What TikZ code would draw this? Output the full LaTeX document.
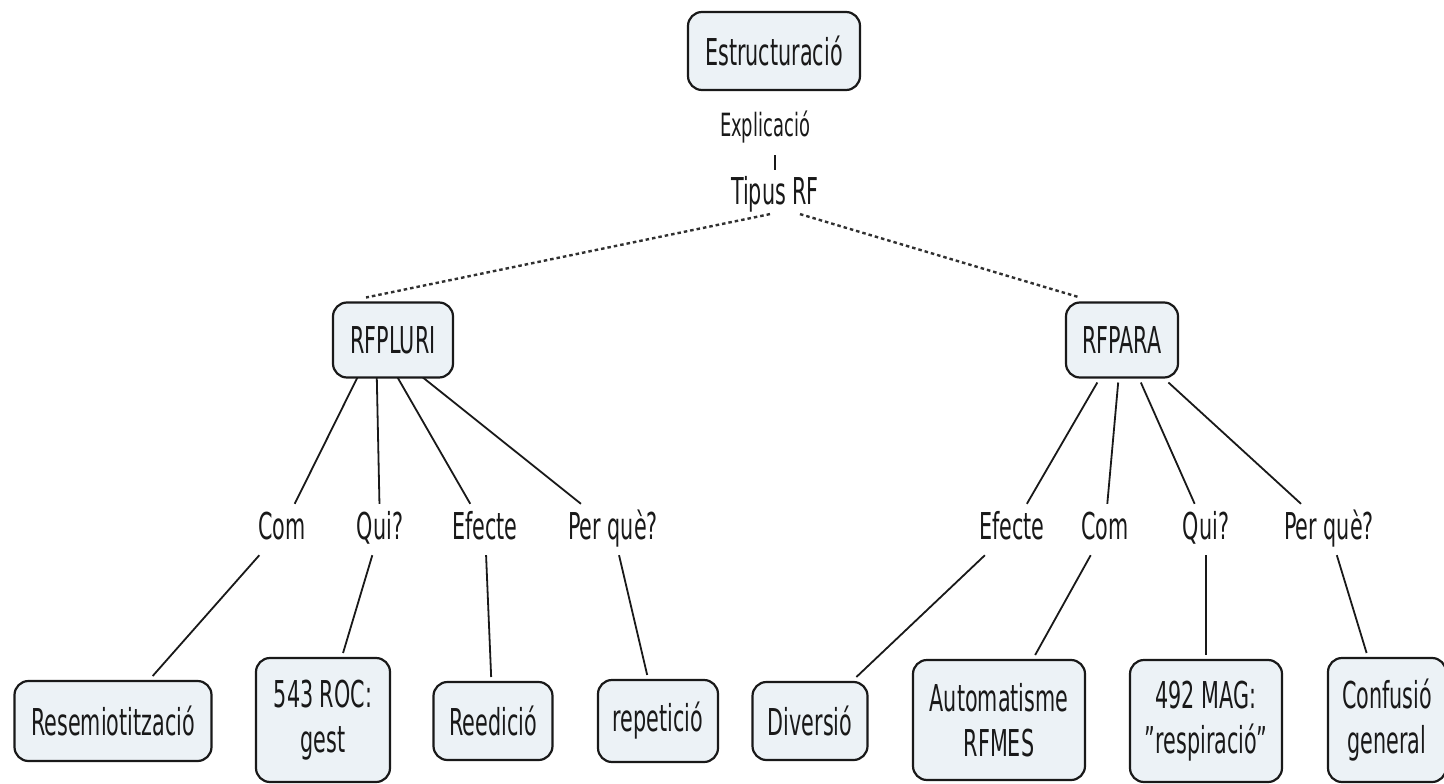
\documentclass[tikz,border=0pt]{standalone}
\usepackage{fontspec}
\setmainfont{DejaVu Sans}[FakeStretch=0.56]
\usetikzlibrary{backgrounds}
\definecolor{boxfill}{RGB}{236,242,246}
\definecolor{ink}{RGB}{25,25,25}
\begin{document}
\begin{tikzpicture}[x=1pt,y=-1pt,
  font=\fontsize{37}{45}\selectfont,
  cbox/.style={draw=ink, line width=2.2pt, fill=boxfill, rounded corners=14pt,
    align=center, inner sep=0pt, outer sep=5pt, text=ink},
  lbl/.style={text=ink, inner xsep=4pt, inner ysep=8pt, text height=27pt,
    text depth=8pt, anchor=base},
  conn/.style={draw=ink, line width=1.8pt},
  dashline/.style={draw=ink!90, line width=2.4pt, dash pattern=on 3.5pt off 3pt}]
\useasboundingbox (0,0) rectangle (1444,784);

% top
\node[cbox, minimum width=172pt, minimum height=78pt] (est) at (774,51) {Estructuració};
\node[text=ink, font=\fontsize{32}{38}\selectfont, inner sep=2pt] (expl) at (765,127) {Explicació};
\node[text=ink, inner sep=2pt] (tip) at (775,194) {Tipus RF};

% second level
\node[cbox, minimum width=120pt, minimum height=75pt] (plu) at (393,340) {RFPLURI};
\node[cbox, minimum width=112pt, minimum height=75pt] (rpa) at (1122,340) {RFPARA};
\coordinate (plhub) at (376,340);

% link labels
\node[lbl] (lcomL) at (282,539) {Com};
\node[lbl] (lquiL) at (380,539) {Qui?};
\node[lbl] (lefeL) at (485,539) {Efecte};
\node[lbl] (lperL) at (613,539) {Per què?};
\node[lbl] (lefeR) at (1012,539) {Efecte};
\node[lbl] (lcomR) at (1105,539) {Com};
\node[lbl] (lquiR) at (1206,539) {Qui?};
\node[lbl] (lperR) at (1329,539) {Per què?};

% leaves
\node[cbox, minimum width=197pt, minimum height=80pt] (res) at (113,721) {Resemiotització};
\node[cbox, minimum width=134pt, minimum height=124pt] (roc) at (323,720) {543 ROC:\\gest};
\node[cbox, minimum width=119pt, minimum height=78pt] (ree) at (493,721) {Reedició};
\node[cbox, minimum width=120pt, minimum height=82pt] (rep) at (658,721) {repetició};
\node[cbox, minimum width=115pt, minimum height=78pt] (div) at (810,721) {Diversió};
\node[cbox, minimum width=172pt, minimum height=120pt] (aut) at (999,720) {Automatisme\\RFMES};
\node[cbox, minimum width=152pt, minimum height=122pt] (mag) at (1206,721) {492 MAG:\\"respiració"};
\node[cbox, minimum width=118pt, minimum height=124pt] (con) at (1387,720) {Confusió\\general};

% connectors
\draw[conn, line width=1.5pt, shorten <=10pt, shorten >=4pt] (tip.north |- expl.south) -- (tip.north);
\draw[dashline] ([xshift=-5pt]tip.south) -- ([xshift=-27pt]plu.north);
\draw[dashline] ([xshift=25pt]tip.south) -- ([xshift=-42pt]rpa.north);

\begin{pgfonlayer}{background}
\fill[white] (0,0) rectangle (1444,784);
\draw[conn] (plhub) -- (lcomL);
\draw[conn] (plhub) -- (lquiL);
\draw[conn] (plhub) -- (lefeL);
\draw[conn] (plhub) -- (lperL);
\end{pgfonlayer}
\draw[conn] (rpa) -- (lefeR);
\draw[conn] (rpa) -- (lcomR);
\draw[conn] (rpa) -- (lquiR);
\draw[conn] (rpa) -- (lperR);

\draw[conn] (lcomL) -- (res);
\draw[conn] (lquiL) -- (roc);
\draw[conn] (lefeL) -- (ree);
\draw[conn] (lperL) -- (rep);
\draw[conn] (lefeR) -- (div);
\draw[conn] (lcomR) -- (aut);
\draw[conn] (lquiR) -- (mag);
\draw[conn] (lperR) -- (con);
\end{tikzpicture}
\end{document}
